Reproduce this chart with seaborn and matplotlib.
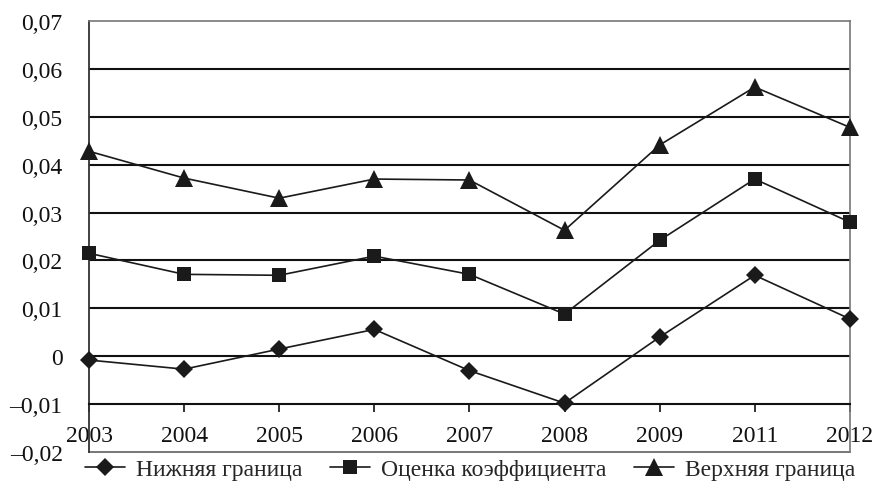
import matplotlib
matplotlib.use("Agg")
import matplotlib.pyplot as plt
import seaborn as sns
import pandas as pd
from matplotlib.ticker import FuncFormatter, MultipleLocator

years = ["2003", "2004", "2005", "2006", "2007", "2008", "2009", "2011", "2012"]
lower = [-0.0008, -0.0027, 0.0015, 0.0056, -0.0030, -0.0098, 0.0040, 0.0169, 0.0078]
estimate = [0.0215, 0.0171, 0.0169, 0.0209, 0.0171, 0.0088, 0.0242, 0.0370, 0.0280]
upper = [0.0428, 0.0372, 0.0330, 0.0370, 0.0368, 0.0263, 0.0441, 0.0562, 0.0478]
names = ["Нижняя граница", "Оценка коэффициента", "Верхняя граница"]

sns.set_theme(style="white")
plt.rcParams["font.family"] = ["Liberation Serif", "DejaVu Serif"]

df = pd.concat([
    pd.DataFrame({"year": years, "value": vals, "series": n})
    for n, vals in zip(names, [lower, estimate, upper])
])

fig = plt.figure(figsize=(8.77, 4.89), dpi=100)
ax = fig.add_axes([0.1015, 0.0736, 0.8675, 0.8814])

markers = {names[0]: "D", names[1]: "s", names[2]: "^"}
palette = {n: "#1a1a1a" for n in names}
sns.lineplot(data=df, x="year", y="value", hue="series", style="series",
             markers=markers, dashes=False, palette=palette, ax=ax,
             linewidth=1.2, markeredgewidth=0, sort=False)

for line in ax.lines:
    line.set_clip_on(False)
    line.set_zorder(5)
    m = line.get_marker()
    if m == "D":
        line.set_markersize(9)
    elif m == "s":
        line.set_markersize(10)
    elif m == "^":
        line.set_markersize(13)

ax.set_xlim(0, len(years) - 1)
ax.set_ylim(-0.02, 0.07)
ax.yaxis.set_major_locator(MultipleLocator(0.01))

def fmt(v, pos):
    s = f"{abs(v):.2f}".replace(".", ",")
    if abs(v) < 1e-9:
        return "0"
    return ("–" if v < 0 else "") + s
ax.yaxis.set_major_formatter(FuncFormatter(fmt))

for yv in [0.0, 0.01, 0.02, 0.03, 0.04, 0.05, 0.06]:
    ax.axhline(yv, color="#111111", lw=1.5, zorder=1)

ax.spines["bottom"].set_position(("data", -0.01))
ax.spines["bottom"].set_color("#111111")
ax.spines["bottom"].set_linewidth(1.5)
ax.spines["left"].set_color("#333333")
ax.spines["left"].set_linewidth(1.3)
for s in ["top", "right"]:
    ax.spines[s].set_color("#777777")
    ax.spines[s].set_linewidth(1.2)
ax.axhline(-0.02, color="#777777", lw=1.4, clip_on=False, zorder=1)

ax.tick_params(axis="x", direction="out", length=6, width=1.2, color="#111111",
               pad=9, labelsize=17, colors="#111111", bottom=True)
ax.tick_params(axis="y", length=0, pad=19, labelsize=17, colors="#111111")
for lab in ax.get_xticklabels() + ax.get_yticklabels():
    lab.set_color("#111111")
ax.set_xlabel("")
ax.set_ylabel("")

handles, labels = ax.get_legend_handles_labels()
for h in handles:
    h.set_clip_on(False)
ax.legend(handles, labels, loc="center", bbox_to_anchor=(0.536, 0.038),
          bbox_transform=fig.transFigure, ncol=3, frameon=False,
          fontsize=17, handlelength=1.7, columnspacing=1.15, handletextpad=0.47,
          borderaxespad=0)

fig.savefig("out.png", dpi=100)
